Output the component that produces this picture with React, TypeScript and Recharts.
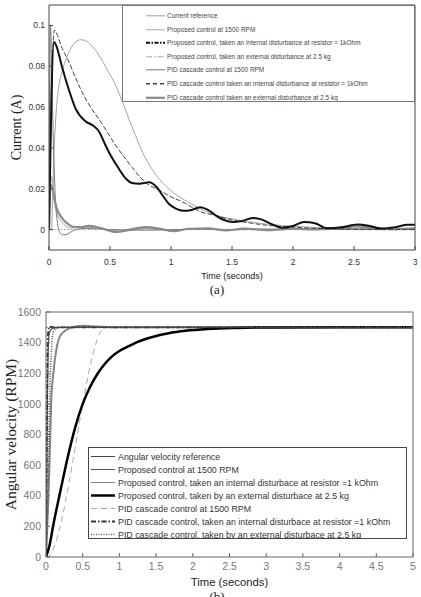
import React from "react";
import { LineChart, Line, XAxis, YAxis, Legend } from "recharts";

// ---------- (a) current response ----------
const timeTicksA = [0, 0.5, 1, 1.5, 2, 2.5, 3];
const currentTicks = [0, 0.02, 0.04, 0.06, 0.08, 0.1];

const curRefT = [0, 3];
const curRefV = [0, 0];

const curProp1500T = [0, 0.02, 0.05, 0.1, 0.18, 0.3, 0.45, 0.6, 0.8, 1.0, 1.2, 1.5, 1.8, 2.1, 2.5, 3];
const curProp1500V = [0, 0.026, 0.012, 0.004, 0.0008, 0.0012, 0.0003, -0.0008, 0.0006, -0.0004, 0.0004, -0.0002, 0.0003, 0, 0.0006, 0.0002];

const curPropIntT = [0, 0.02, 0.04, 0.06, 0.11, 0.16, 0.22, 0.3, 0.36, 0.41, 0.45, 0.49, 0.56, 0.63, 0.68, 0.74, 0.82, 0.88, 0.93, 0.98, 1.04, 1.1, 1.16, 1.24, 1.3, 1.36, 1.43, 1.51, 1.58, 1.67, 1.74, 1.82, 1.91, 2.0, 2.09, 2.18, 2.28, 2.4, 2.53, 2.62, 2.72, 2.84, 2.94, 3];
const curPropIntV = [0, 0.065, 0.092, 0.09, 0.079, 0.069, 0.059, 0.053, 0.051, 0.048, 0.043, 0.038, 0.031, 0.025, 0.0228, 0.0225, 0.0232, 0.021, 0.0168, 0.0128, 0.0103, 0.0092, 0.0095, 0.011, 0.0098, 0.0072, 0.0048, 0.0037, 0.0042, 0.0057, 0.005, 0.0028, 0.0009, 0.0018, 0.0037, 0.0031, 0.0006, 0.0011, 0.0025, 0.0019, 0.0005, 0.0012, 0.0024, 0.0024];

const curPropExtT = [0, 0.02, 0.03, 0.04, 0.055, 0.082, 0.11, 0.137, 0.18, 0.22, 0.26, 0.3, 0.35, 0.41, 0.48, 0.546, 0.6, 0.656, 0.71, 0.765, 0.83, 0.9, 1.0, 1.09, 1.2, 1.37, 1.5, 1.64, 1.8, 2.0, 2.3, 2.6, 3];
const curPropExtV = [0, 0, 0.015, 0.036, 0.054, 0.0707, 0.078, 0.083, 0.089, 0.092, 0.093, 0.0925, 0.09, 0.0854, 0.078, 0.0707, 0.063, 0.054, 0.046, 0.038, 0.031, 0.025, 0.019, 0.0152, 0.0115, 0.007, 0.0052, 0.0038, 0.0026, 0.0016, 0.0008, 0.0004, 0.0002];

const curPid1500T = [0, 0.005, 0.012, 0.02, 0.035, 0.05, 0.07, 0.09, 0.11, 0.14, 0.17, 0.22, 0.3, 0.5, 0.8, 1.2, 1.6, 2, 2.5, 3];
const curPid1500V = [0, 0.06, 0.1, 0.085, 0.045, 0.018, 0.003, -0.0015, -0.0025, -0.0025, -0.0015, 0, 0.0006, 0, -0.0003, 0.0002, 0, 0.0002, 0, 0];

const curPidIntT = [0, 0.015, 0.03, 0.045, 0.07, 0.1, 0.164, 0.22, 0.27, 0.34, 0.41, 0.48, 0.546, 0.63, 0.71, 0.8, 0.9, 1.0, 1.09, 1.24, 1.37, 1.51, 1.65, 1.79, 2.0, 2.2, 2.5, 3];
const curPidIntV = [0, 0.05, 0.088, 0.0977, 0.095, 0.09, 0.082, 0.074, 0.0675, 0.06, 0.054, 0.0475, 0.0413, 0.0345, 0.0283, 0.0226, 0.0195, 0.016, 0.0137, 0.0088, 0.0068, 0.0046, 0.0032, 0.0021, 0.0012, 0.0006, 0.0002, 0];

const curPidExtT = [0, 0.01, 0.027, 0.06, 0.11, 0.15, 0.19, 0.26, 0.33, 0.42, 0.55, 0.68, 0.8, 0.92, 1.02, 1.15, 1.3, 1.45, 1.6, 1.8, 2.0, 2.2, 2.4, 2.52, 2.65, 2.8, 3];
const curPidExtV = [0, 0.022, 0.02, 0.011, 0.0054, 0.003, 0.0015, 0.0012, 0.0018, 0.0008, -0.0012, 0.0002, 0.0012, 0.0002, -0.0008, 0.0004, 0.0006, -0.0004, 0.0005, -0.0003, 0.0004, 0.0001, 0.0008, 0.0016, 0.0009, 0.0002, 0.0006];

const curNames = [
  "Current reference",
  "Proposed control at 1500 RPM",
  "Proposed control, taken an internal disturbance at resistor = 1kOhm",
  "Proposed control, taken an external disturbance at 2.5 kg",
  "PID cascade control at 1500 RPM",
  "PID cascade control taken an internal disturbance at resistor = 1kOhm",
  "PID cascade control taken an external disturbance at 2.5 kg",
];

// ---------- (b) angular velocity ----------
const timeTicksB = [0, 0.5, 1, 1.5, 2, 2.5, 3, 3.5, 4, 4.5, 5];
const speedTicks = [0, 200, 400, 600, 800, 1000, 1200, 1400, 1600];

const spdRefT = [0, 5];
const spdRefV = [1500, 1500];

const spdProp1500T = [0, 0.01, 0.02, 0.03, 0.04, 0.06, 0.1, 0.2, 5];
const spdProp1500V = [0, 500, 1050, 1350, 1440, 1480, 1495, 1500, 1500];

const spdPropIntT = [0, 0.03, 0.05, 0.07, 0.1, 0.15, 0.2, 0.3, 0.4, 0.5, 0.7, 1.0, 5];
const spdPropIntV = [0, 350, 650, 1000, 1200, 1380, 1450, 1490, 1505, 1510, 1505, 1500, 1500];

const spdPropExtT = [0, 0.05, 0.1, 0.2, 0.3, 0.4, 0.5, 0.6, 0.7, 0.8, 0.9, 1.0, 1.1, 1.25, 1.45, 1.67, 1.9, 2.2, 2.6, 3, 5];
const spdPropExtV = [0, 80, 210, 440, 660, 850, 1000, 1110, 1195, 1260, 1310, 1345, 1370, 1405, 1437, 1461, 1477, 1489, 1496, 1499, 1500];

const spdPid1500T = [0, 0.01, 0.81, 5];
const spdPid1500V = [0, 0, 1500, 1500];

const spdPidIntT = [0, 0.005, 0.012, 0.02, 0.03, 0.05, 0.1, 0.3, 5];
const spdPidIntV = [0, 250, 800, 1300, 1470, 1505, 1500, 1500, 1500];

const spdPidExtT = [0, 0.02, 0.04, 0.06, 0.08, 0.1, 0.15, 0.2, 5];
const spdPidExtV = [0, 300, 800, 1200, 1400, 1470, 1495, 1500, 1500];

const spdNames = [
  "Angular velocity reference",
  "Proposed control at 1500 RPM",
  "Proposed control, taken an internal disturbace at resistor =1 kOhm",
  "Proposed control, taken by an external disturbace at 2.5 kg",
  "PID cascade control at 1500 RPM",
  "PID cascade control, taken an internal disturbace at resistor =1 kOhm",
  "PID cascade control, taken by an external disturbace at 2.5 kg",
];

const zip = (t: number[], v: number[]) => t.map((x, i) => ({ t: x, v: v[i] }));

const SANS = "'Liberation Sans', Arial, sans-serif";
const SERIF = "'Liberation Serif', 'Times New Roman', serif";

type Style = { stroke: string; w: number; dash?: string; legendDash?: string; legendW?: number };

const curStyles: Style[] = [
  { stroke: "#888", w: 0.8, dash: "1.5 1.5", legendDash: "" },
  { stroke: "#999", w: 0.9 },
  { stroke: "#111", w: 2, legendDash: "4 1.5 1.5 1.5" },
  { stroke: "#999", w: 0.9, legendDash: "6 2 1.5 2" },
  { stroke: "#777", w: 1 },
  { stroke: "#444", w: 1, dash: "5 2", legendDash: "4 3", legendW: 1.6 },
  { stroke: "#8a8a8a", w: 2.2 },
];

const spdStyles: Style[] = [
  { stroke: "#444", w: 1, dash: "1.5 1.5", legendDash: "" },
  { stroke: "#555", w: 1.2, legendW: 1 },
  { stroke: "#858585", w: 2, legendW: 1 },
  { stroke: "#000", w: 2.5 },
  { stroke: "#aaa", w: 1, dash: "6 4" },
  { stroke: "#333", w: 1.8, dash: "5 2 1.5 2" },
  { stroke: "#555", w: 1.6, dash: "1 1.5" },
];

function LegendBox(props: {
  names: string[];
  styles: Style[];
  rowH: number;
  padTop: number;
  padLeft: number;
  sampleW: number;
  gap: number;
  fontSize: number;
  squeeze: number;
  color: string;
  border: string;
}) {
  const { names, styles, rowH, padTop, padLeft, sampleW, gap, fontSize, squeeze, color, border } = props;
  return (
    <div
      style={{
        boxSizing: "border-box",
        width: "100%",
        height: "100%",
        border,
        background: "#fff",
        paddingTop: padTop,
        paddingLeft: padLeft,
        overflow: "hidden",
      }}
    >
      {names.map((n, i) => {
        const s = styles[i];
        const dash = s.legendDash !== undefined ? s.legendDash : s.dash;
        return (
          <div key={n} style={{ display: "flex", alignItems: "center", height: rowH }}>
            <svg width={sampleW} height={rowH} style={{ flex: "none" }}>
              <line
                x1={0}
                x2={sampleW}
                y1={rowH / 2}
                y2={rowH / 2}
                stroke={s.stroke}
                strokeWidth={s.legendW ?? s.w}
                strokeDasharray={dash || undefined}
              />
            </svg>
            <span
              style={{
                display: "inline-block",
                marginLeft: gap,
                fontSize,
                fontFamily: SANS,
                color,
                whiteSpace: "nowrap",
                lineHeight: `${rowH}px`,
                transform: `scaleX(${squeeze})`,
                transformOrigin: "left center",
              }}
            >
              {n}
            </span>
          </div>
        );
      })}
    </div>
  );
}

const curSeries = [
  zip(curRefT, curRefV),
  zip(curProp1500T, curProp1500V),
  zip(curPropIntT, curPropIntV),
  zip(curPropExtT, curPropExtV),
  zip(curPid1500T, curPid1500V),
  zip(curPidIntT, curPidIntV),
  zip(curPidExtT, curPidExtV),
];
// draw order: thin ones first, black on top
const curOrder = [0, 3, 1, 4, 6, 5, 2];

const spdSeries = [
  zip(spdRefT, spdRefV),
  zip(spdProp1500T, spdProp1500V),
  zip(spdPropIntT, spdPropIntV),
  zip(spdPropExtT, spdPropExtV),
  zip(spdPid1500T, spdPid1500V),
  zip(spdPidIntT, spdPidIntV),
  zip(spdPidExtT, spdPidExtV),
];
const spdOrder = [4, 2, 1, 3, 0, 5, 6];

function CurrentChart() {
  const axisCol = "#444";
  const tickStyle = { fill: "#333", fontSize: 8.5, fontFamily: SANS };
  return (
    <LineChart width={421} height={300} margin={{ top: 4, right: 5, bottom: 18, left: 0 }}>
      <XAxis xAxisId="top" orientation="top" type="number" domain={[0, 3]} ticks={timeTicksA} height={1} tick={false} tickSize={-4} stroke={axisCol} allowDataOverflow />
      <YAxis yAxisId="right" orientation="right" type="number" domain={[-0.01, 0.11]} ticks={currentTicks} width={1} tick={false} tickSize={-4} stroke={axisCol} allowDataOverflow />
      <XAxis
        dataKey="t"
        type="number"
        domain={[0, 3]}
        ticks={timeTicksA}
        height={32}
        tickSize={-4}
        tickMargin={13}
        stroke={axisCol}
        tick={tickStyle}
        allowDataOverflow
        label={{ value: "Time (seconds)", position: "insideBottom", offset: 3, style: { fill: "#222", fontSize: 9, fontFamily: SANS } }}
      />
      <YAxis
        type="number"
        domain={[-0.01, 0.11]}
        ticks={currentTicks}
        width={49}
        tickSize={-4}
        tickMargin={8}
        stroke={axisCol}
        tick={tickStyle}
        allowDataOverflow
        label={{ value: "Current (A)", angle: -90, position: "insideLeft", offset: 16, style: { textAnchor: "middle", fill: "#222", fontSize: 14, fontFamily: SERIF } }}
      />
      {curOrder.map((i) => (
        <Line
          key={curNames[i]}
          data={curSeries[i]}
          dataKey="v"
          name={curNames[i]}
          type="monotone"
          stroke={curStyles[i].stroke}
          strokeWidth={curStyles[i].w}
          strokeDasharray={curStyles[i].dash}
          dot={false}
          isAnimationActive={false}
        />
      ))}
      <Legend
        layout="vertical"
        align="center"
        verticalAlign="middle"
        wrapperStyle={{ position: "absolute", left: 122, top: 5, width: 293, height: 97 }}
        content={() => (
          <LegendBox
            names={curNames}
            styles={curStyles}
            rowH={13.6}
            padTop={3}
            padLeft={23}
            sampleW={19}
            gap={1.5}
            fontSize={7.6}
            squeeze={0.85}
            color="#444"
            border="1px solid #777"
          />
        )}
      />
    </LineChart>
  );
}

function SpeedChart() {
  const axisCol = "#666";
  const tickStyle = { fill: "#777", fontSize: 10.5, fontFamily: SANS };
  return (
    <LineChart width={421} height={297} margin={{ top: 11, right: 7, bottom: 8, left: 0 }}>
      <XAxis xAxisId="top" orientation="top" type="number" domain={[0, 5]} ticks={timeTicksB} height={1} tick={false} tickSize={-4} stroke={axisCol} allowDataOverflow />
      <YAxis yAxisId="right" orientation="right" type="number" domain={[0, 1600]} ticks={speedTicks} width={1} tick={false} tickSize={-4} stroke={axisCol} allowDataOverflow />
      <XAxis
        dataKey="t"
        type="number"
        domain={[0, 5]}
        ticks={timeTicksB}
        height={32}
        tickSize={-4}
        tickMargin={10}
        stroke={axisCol}
        tick={tickStyle}
        allowDataOverflow
        label={{ value: "Time (seconds)", position: "insideBottom", offset: 3, style: { fill: "#222", fontSize: 11.3, fontFamily: SANS } }}
      />
      <YAxis
        type="number"
        domain={[0, 1600]}
        ticks={speedTicks}
        width={46}
        tickSize={-4}
        tickMargin={9}
        stroke={axisCol}
        tick={tickStyle}
        allowDataOverflow
        label={{ value: "Angular velocity (RPM)", angle: -90, position: "insideLeft", offset: 10, style: { textAnchor: "middle", fill: "#222", fontSize: 15.5, fontFamily: SERIF } }}
      />
      {spdOrder.map((i) => (
        <Line
          key={spdNames[i]}
          data={spdSeries[i]}
          dataKey="v"
          name={spdNames[i]}
          type="monotone"
          stroke={spdStyles[i].stroke}
          strokeWidth={spdStyles[i].w}
          strokeDasharray={spdStyles[i].dash}
          dot={false}
          isAnimationActive={false}
        />
      ))}
      <Legend
        layout="vertical"
        align="center"
        verticalAlign="middle"
        wrapperStyle={{ position: "absolute", left: 88, top: 147, width: 319, height: 92 }}
        content={() => (
          <LegendBox
            names={spdNames}
            styles={spdStyles}
            rowH={13}
            padTop={1.5}
            padLeft={2}
            sampleW={24}
            gap={2.5}
            fontSize={9.5}
            squeeze={0.93}
            color="#333"
            border="1.3px solid #444"
          />
        )}
      />
    </LineChart>
  );
}

export default function App() {
  const capStyle: React.CSSProperties = {
    position: "absolute",
    left: 187,
    width: 60,
    textAlign: "center",
    fontFamily: SERIF,
    fontSize: 13,
    color: "#222",
    lineHeight: "14px",
  };
  return (
    <div style={{ position: "absolute", left: 0, top: 0, width: 421, height: 597, overflow: "hidden", background: "#fff" }}>
      <div style={{ position: "absolute", left: 0, top: 0 }}>
        <CurrentChart />
      </div>
      <div style={{ ...capStyle, top: 283 }}>(a)</div>
      <div style={{ position: "absolute", left: 0, top: 300 }}>
        <SpeedChart />
      </div>
      <div style={{ ...capStyle, top: 590 }}>(b)</div>
    </div>
  );
}
